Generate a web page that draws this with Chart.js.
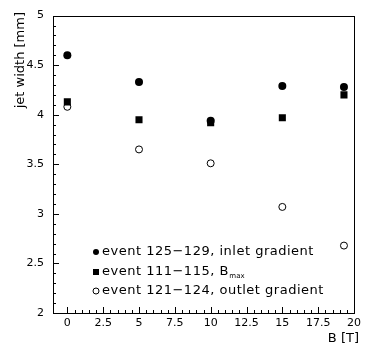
<!DOCTYPE html>
<html><head><meta charset="utf-8">
<script src="https://cdn.jsdelivr.net/npm/chart.js@4.4.1/dist/chart.umd.min.js"></script>
<style>html,body{margin:0;padding:0;background:#fff}#wrap{width:365px;height:345px}</style>
</head><body><div id="wrap"><canvas id="c" width="365" height="345"></canvas></div>
<script>
const bField = [0, 5, 10, 15, 19.3];
const inletGradient = [4.60, 4.33, 3.94, 4.29, 4.28];
const bMax = [4.13, 3.95, 3.92, 3.97, 4.20];
const outletGradient = [4.08, 3.65, 3.51, 3.07, 2.68];
const xTicks = [0, 2.5, 5, 7.5, 10, 12.5, 15, 17.5, 20];
const yTicks = [2, 2.5, 3, 3.5, 4, 4.5, 5];
const legendLabels = ['event 125\u2212129, inlet gradient', 'event 111\u2212115, B', 'event 121\u2212124, outlet gradient'];
const yTitle = 'jet width [mm]';
const xTitle = 'B [T]';

const FONT = "'DejaVu Sans', sans-serif";
const pts = (ys) => bField.map((x, i) => ({x, y: ys[i]}));

const frame = {
  id: 'frame',
  afterDraw(chart) {
    const {ctx, chartArea: a, scales: {x, y}} = chart;
    ctx.save();
    ctx.strokeStyle = '#000'; ctx.lineWidth = 1;
    ctx.strokeRect(Math.round(a.left) + 0.5, Math.round(a.top) + 0.5, Math.round(a.right - a.left), Math.round(a.bottom - a.top));
    ctx.beginPath();
    for (let v = 2; v <= 5.0001; v += 0.1) {
      const major = Math.abs(v * 2 - Math.round(v * 2)) < 1e-6;
      const py = Math.round(y.getPixelForValue(v)) + 0.5;
      ctx.moveTo(a.left, py); ctx.lineTo(a.left + (major ? 6 : 3), py);
    }
    for (let v = 0; v <= 20.0001; v += 0.5) {
      const major = Math.abs(v / 2.5 - Math.round(v / 2.5)) < 1e-6;
      const px = Math.round(x.getPixelForValue(v)) + 0.5;
      ctx.moveTo(px, a.bottom); ctx.lineTo(px, a.bottom - (major ? 6 : 3));
    }
    ctx.stroke();
    // titles
    ctx.fillStyle = '#000';
    ctx.font = '13px ' + FONT;
    ctx.textAlign = 'right'; ctx.textBaseline = 'alphabetic';
    ctx.fillText(xTitle, 359, 342);
    ctx.save();
    ctx.translate(24, 12); ctx.rotate(-Math.PI / 2);
    ctx.textAlign = 'right'; ctx.textBaseline = 'alphabetic';
    ctx.fillText(yTitle, 0, 0);
    ctx.restore();
    // legend
    const rows = [252, 272, 291];
    const mx = 96, tx = 102;
    ctx.font = '13px ' + FONT;
    if ('letterSpacing' in ctx) ctx.letterSpacing = '0.5px';
    ctx.textAlign = 'left'; ctx.textBaseline = 'middle';
    rows.forEach((ry, i) => {
      ctx.beginPath();
      if (i === 0) { ctx.arc(mx, ry, 3, 0, Math.PI * 2); ctx.fill(); }
      else if (i === 1) { ctx.fillRect(mx - 3, ry - 3, 6, 6); }
      else { ctx.arc(mx, ry, 3, 0, Math.PI * 2); ctx.lineWidth = 1; ctx.stroke(); }
      ctx.fillText(legendLabels[i], tx, ry);
      if (i === 1) {
        const w = ctx.measureText(legendLabels[i]).width;
        ctx.font = '7px ' + FONT;
        if ('letterSpacing' in ctx) ctx.letterSpacing = '0px';
        ctx.fillText('max', tx + w + 0.5, ry + 4);
        ctx.font = '13px ' + FONT;
        if ('letterSpacing' in ctx) ctx.letterSpacing = '0.5px';
      }
    });
    ctx.restore();
  }
};

new Chart(document.getElementById('c'), {
  type: 'scatter',
  data: {
    datasets: [
      {data: pts(inletGradient), pointStyle: 'circle', pointRadius: 4, backgroundColor: '#000', borderColor: '#000', borderWidth: 0},
      {data: pts(bMax), pointStyle: 'rect', pointRadius: 5, backgroundColor: '#000', borderColor: '#000', borderWidth: 0},
      {data: pts(outletGradient), pointStyle: 'circle', pointRadius: 3.5, backgroundColor: '#fff', borderColor: '#000', borderWidth: 1}
    ]
  },
  plugins: [frame],
  options: {
    responsive: false, animation: false, events: [],
    layout: {padding: {top: 11, right: 9, left: 0, bottom: 0}},
    plugins: {legend: {display: false}, tooltip: {enabled: false}},
    scales: {
      x: {
        type: 'linear', min: -1, max: 20,
        afterFit(s) { s.height = 32; },
        afterBuildTicks(s) { s.ticks = xTicks.map(v => ({value: v})); },
        grid: {display: false, drawTicks: false}, border: {display: false},
        ticks: {padding: 4, color: '#000', font: {family: FONT, size: 11}, maxRotation: 0, autoSkip: false, callback: v => String(v)}
      },
      y: {
        type: 'linear', min: 2, max: 5,
        afterFit(s) { s.width = 53; },
        afterBuildTicks(s) { s.ticks = yTicks.map(v => ({value: v})); },
        grid: {display: false, drawTicks: false}, border: {display: false},
        ticks: {padding: 9, color: '#000', font: {family: FONT, size: 11}, autoSkip: false, callback: v => String(v)}
      }
    }
  }
});
</script></body></html>
